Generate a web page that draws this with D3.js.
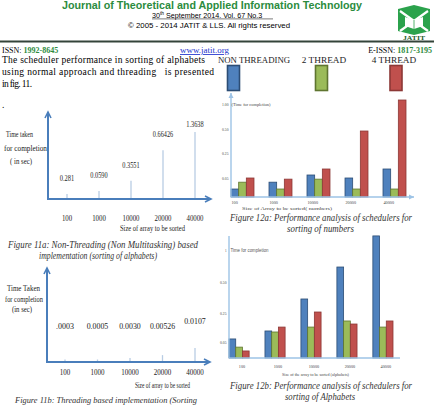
<!DOCTYPE html>
<html>
<head>
<meta charset="utf-8">
<script src="https://cdn.jsdelivr.net/npm/d3@7"></script>
<style>
body { margin: 0; background: #fff; }
svg { display: block; }
</style>
</head>
<body>
<script>
// array sizes, shared by all four figures
const sizes = ["100", "1000", "10000", "20000", "40000"];

// fig 11a : non threading, sorting of alphabets
const labels11a = ["0.281", "0.0590", "0.3551", "0.66426", "1.3638"];
const drawn11a = [0.10, 0.16, 0.37, 0.99, 1.36];   // height of each line as it is drawn

// fig 11b : threading
const labels11b = [".0003", "0.0005", "0.0030", "0.00526", "0.0107"];
const values11b = [0.0003, 0.0005, 0.0030, 0.00526, 0.0107];

// legend / series
const series = ["NON THREADING", "2 THREAD", "4 THREAD"];
const fills = ["#4f81bd", "#9bbb59", "#c0504d"];
const strokes = ["#2c4d75", "#5f7530", "#8c3836"];

// fig 12a : sorting of numbers
const non12a = [0.021, 0.039, 0.074, 0.050, 0.122];
const two12a = [0.039, 0.021, 0.047, 0.021, 0.021];
const four12a = [0.050, 0.047, 0.122, 0.479, 1.08];

// fig 12b : sorting of alphabets
const non12b = [0.071, 0.126, 0.363, 0.734, 1.22];
const two12b = [0.034, 0.119, 0.153, 0.195, 0.153];
const four12b = [0.022, 0.153, 0.258, 0.174, 0.195];

const yTicks = [1, 0.5, 0.25, 0.05];
const yTickLabels12a = ["1.00", "0.50", "0.25", "0.05"];
const yTickLabels12b = ["1", "0.50", "0.25", "0.05"];

const svg = d3.select("body").append("svg")
    .attr("width", 434)
    .attr("height", 405)
    .style("font-family", "'Liberation Serif', 'Times New Roman', serif");

function label(g, x, y, s, size, len, anchor) {
    const t = g.append("text")
        .attr("x", x).attr("y", y)
        .attr("font-size", size)
        .attr("text-anchor", anchor || "start")
        .text(s);
    if (len) t.attr("textLength", len).attr("lengthAdjust", "spacingAndGlyphs");
    return t;
}

// ---------- page header ----------
label(svg, 62, 9, "Journal of Theoretical and Applied Information Technology", 10, 300)
    .attr("font-family", "'Liberation Sans', Arial, sans-serif")
    .attr("font-weight", "bold")
    .attr("fill", "#2b8c3e");

const date = svg.append("text").attr("x", 152).attr("y", 17.5)
    .attr("font-size", 7.2).attr("font-family", "'Liberation Sans', Arial, sans-serif");
date.append("tspan").text("30");
date.append("tspan").attr("dy", -2.5).attr("font-size", 4.8).text("th");
date.append("tspan").attr("dy", 2.5).text(" September 2014. Vol. 67 No.3");
svg.append("line").attr("x1", 152).attr("x2", 273).attr("y1", 18.9).attr("y2", 18.9)
    .attr("stroke", "#222").attr("stroke-width", 0.6);

label(svg, 128, 28, "\u00a9 2005 - 2014 JATIT & LLS. All rights reserved", 7.5, 162)
    .attr("font-family", "'Liberation Sans', Arial, sans-serif");

// logo
const logo = svg.append("g");
logo.append("path")
    .attr("d", "M398,9 L414,5 L430,9 L430,31 L414,35 L398,31 Z")
    .attr("fill", "#2ba24c");
logo.append("path").attr("d", "M400,11 L428,31 M428,11 L400,31")
    .attr("stroke", "#fff").attr("stroke-width", 2.2);
logo.append("path").attr("d", "M405,17 L414,20 L423,17 L423,26 L414,29 L405,26 Z")
    .attr("fill", "#fff");
logo.append("path").attr("d", "M414,20 L414,29").attr("stroke", "#2ba24c").attr("stroke-width", 0.8);
label(logo, 414, 40, "JATIT", 7, 22, "middle").attr("font-weight", "bold").attr("fill", "#1e5c2a");

svg.append("line").attr("x1", 0).attr("x2", 434).attr("y1", 41.5).attr("y2", 41.5)
    .attr("stroke", "#34443a").attr("stroke-width", 1.8);

const issn = svg.append("text").attr("x", 2).attr("y", 53).attr("font-size", 8);
issn.append("tspan").text("ISSN: ");
issn.append("tspan").attr("fill", "#2e8b3e").attr("font-weight", "bold").text("1992-8645");

label(svg, 204.5, 53, "www.jatit.org", 8.5, 49, "middle")
    .attr("fill", "#2233cc").attr("text-decoration", "underline");

const eissn = svg.append("text").attr("x", 432).attr("y", 53).attr("font-size", 8).attr("text-anchor", "end");
eissn.append("tspan").text("E-ISSN: ");
eissn.append("tspan").attr("fill", "#2e8b3e").attr("font-weight", "bold").text("1817-3195");

// ---------- body text ----------
label(svg, 2, 63, "The scheduler performance in sorting of alphabets", 9.5, 203).attr("lengthAdjust", "spacing");
label(svg, 2, 75, "using normal approach and threading   is presented", 9.5, 212)
    .attr("lengthAdjust", "spacing").attr("xml:space", "preserve").style("white-space", "pre");
label(svg, 2, 86.5, "in fig. 11.", 9.5, 30).attr("lengthAdjust", "spacing");
label(svg, 2, 108, ".", 9.5);

// ---------- arrows for fig 11 ----------
function arrowAxes(g, f, color) {
    g.append("line").attr("x1", f.left).attr("x2", f.left).attr("y1", f.base + 1).attr("y2", f.top)
        .attr("stroke", color).attr("stroke-width", 2);
    g.append("line").attr("x1", f.left - 1).attr("x2", f.right).attr("y1", f.base).attr("y2", f.base)
        .attr("stroke", color).attr("stroke-width", 2);
    g.append("polyline")
        .attr("points", [[f.left - 3, f.top + 6], [f.left, f.top], [f.left + 3, f.top + 6]].join(" "))
        .attr("fill", "none").attr("stroke", color).attr("stroke-width", 1.6);
    g.append("polyline")
        .attr("points", [[f.right - 6, f.base - 3], [f.right, f.base], [f.right - 6, f.base + 3]].join(" "))
        .attr("fill", "none").attr("stroke", color).attr("stroke-width", 1.6);
}

// ---------- fig 11a ----------
const f11a = {left: 48, right: 211, top: 112, base: 199};
const g11a = svg.append("g");
const x11a = d3.scalePoint().domain(sizes).range([67, 195]);
const y11a = d3.scaleLinear().domain([0, 1.5]).range([f11a.base, f11a.base - 74]);

g11a.selectAll("line.val").data(sizes).join("line").attr("class", "val")
    .attr("x1", d => x11a(d)).attr("x2", d => x11a(d))
    .attr("y1", y11a(0)).attr("y2", (d, i) => y11a(drawn11a[i]))
    .attr("stroke", "#b8cce4").attr("stroke-width", 1.3);
arrowAxes(g11a, f11a, "#4a7ebb");

g11a.selectAll("text.val").data(labels11a).join("text").attr("class", "val")
    .attr("x", (d, i) => x11a(sizes[i]))
    .attr("y", (d, i) => Math.max(y11a(drawn11a[i]) - 13, f11a.top + 15))
    .attr("text-anchor", "middle").attr("font-size", 8.5).attr("fill", "#222")
    .attr("textLength", d => d.length * 2.9).attr("lengthAdjust", "spacingAndGlyphs")
    .text(d => d);

g11a.selectAll("text.tick").data(sizes).join("text").attr("class", "tick")
    .attr("x", d => x11a(d)).attr("y", f11a.base + 22)
    .attr("text-anchor", "middle").attr("font-size", 8.5).attr("fill", "#222")
    .attr("textLength", d => d.length * 3.4).attr("lengthAdjust", "spacingAndGlyphs")
    .text(d => d);
label(g11a, 152.5, 230.5, "Size of array to be sorted", 8.5, 65, "middle").attr("fill", "#222");
label(g11a, 6, 137, "Time taken", 8.5, 27).attr("fill", "#222");
label(g11a, 4, 151, "for completion", 8.5, 43).attr("fill", "#222");
label(g11a, 10, 164, "( in sec)", 8.5, 22).attr("fill", "#222");

label(svg, 103, 248, "Figure 11a: Non-Threading (Non Multitasking) based", 9.5, 190, "middle")
    .attr("font-style", "italic").attr("fill", "#333");
label(svg, 98, 259, "implementation (sorting of alphabets)", 9.5, 118, "middle")
    .attr("font-style", "italic").attr("fill", "#333");

// ---------- fig 11b ----------
const f11b = {left: 47, right: 210, top: 268, base: 362};
const g11b = svg.append("g");
const x11b = d3.scalePoint().domain(sizes).range([65, 195]);
const y11b = d3.scaleLinear().domain([0, 0.0107]).range([f11b.base, f11b.base - 14]);

g11b.selectAll("line.val").data(values11b).join("line").attr("class", "val")
    .attr("x1", (d, i) => x11b(sizes[i])).attr("x2", (d, i) => x11b(sizes[i]))
    .attr("y1", y11b(0)).attr("y2", d => Math.min(y11b(d), f11b.base - 2.5))
    .attr("stroke", "#b8cce4").attr("stroke-width", 1.3);
arrowAxes(g11b, f11b, "#4a7ebb");

g11b.selectAll("text.val").data(labels11b).join("text").attr("class", "val")
    .attr("x", (d, i) => x11b(sizes[i]))
    .attr("y", (d, i) => Math.min(f11b.base - 33, y11b(values11b[i]) - 24))
    .attr("text-anchor", "middle").attr("font-size", 9).attr("fill", "#222")
    .attr("textLength", d => d.length * 3.6).attr("lengthAdjust", "spacingAndGlyphs")
    .text(d => d);

g11b.selectAll("text.tick").data(sizes).join("text").attr("class", "tick")
    .attr("x", d => x11b(d)).attr("y", f11b.base + 13)
    .attr("text-anchor", "middle").attr("font-size", 9).attr("fill", "#222")
    .attr("textLength", d => d.length * 3.5).attr("lengthAdjust", "spacingAndGlyphs")
    .text(d => d);
label(g11b, 162.5, 388, "Size of array to be sorted", 9, 55, "middle").attr("fill", "#222");
label(g11b, 7, 291, "Time Taken", 9, 33).attr("fill", "#222");
label(g11b, 5, 302, "for completion", 9, 38).attr("fill", "#222");
label(g11b, 12, 312, "(in sec)", 9, 20).attr("fill", "#222");

label(svg, 106, 402.5, "Figure 11b: Threading based implementation (Sorting", 8.5, 182, "middle")
    .attr("font-style", "italic").attr("fill", "#333");

// ---------- legend ----------
const legX = d3.scalePoint().domain(series).range([254, 394]);
const swX = d3.scaleOrdinal().domain(series).range([233.5, 321.5, 396]);
const leg = svg.append("g");
leg.selectAll("text").data(series).join("text")
    .attr("x", d => legX(d)).attr("y", 62.5)
    .attr("text-anchor", "middle").attr("font-size", 9).attr("fill", "#222")
    .attr("textLength", d => d.length * 5.55).attr("lengthAdjust", "spacingAndGlyphs")
    .text(d => d);
leg.selectAll("rect").data(series).join("rect")
    .attr("x", d => swX(d) - 6).attr("y", 65.5).attr("width", 12).attr("height", 25)
    .attr("fill", (d, i) => fills[i]).attr("stroke", (d, i) => strokes[i]).attr("stroke-width", 1.6);

// ---------- fig 12 bar charts ----------
function barChart(o) {
    const g = svg.append("g");
    const x0 = d3.scaleBand().domain(sizes).range(o.xRange).paddingInner(o.pad);
    const x1 = d3.scaleBand().domain(series).range([0, x0.bandwidth()]);
    const y = d3.scaleLinear().domain([0, 0.05, 0.25, 0.5, 1]).range(o.yRange);

    const groups = g.selectAll("g.grp").data(sizes).join("g").attr("class", "grp")
        .attr("transform", d => `translate(${x0(d)},0)`);
    groups.selectAll("rect")
        .data((d, i) => o.data.map((arr, k) => ({k: k, v: arr[i]})))
        .join("rect")
        .attr("x", d => x1(series[d.k]))
        .attr("width", x1.bandwidth())
        .attr("y", d => y(d.v))
        .attr("height", d => y(0) - y(d.v))
        .attr("fill", d => fills[d.k])
        .attr("stroke", d => strokes[d.k])
        .attr("stroke-width", 0.8);

    // axes
    g.append("line").attr("x1", o.xRange[0]).attr("x2", o.xRange[0])
        .attr("y1", y(0)).attr("y2", o.top)
        .attr("stroke", "#9dc3e6").attr("stroke-width", 1.4);
    g.append("line").attr("x1", o.xRange[0]).attr("x2", o.xEnd)
        .attr("y1", y(0)).attr("y2", y(0))
        .attr("stroke", "#9dc3e6").attr("stroke-width", 1.4);
    if (o.arrows) {
        g.append("path").attr("d", `M${o.xRange[0] - 2.5},${o.top + 5} L${o.xRange[0]},${o.top} L${o.xRange[0] + 2.5},${o.top + 5} Z`)
            .attr("fill", "#9dc3e6");
        g.append("path").attr("d", `M${o.xEnd - 5},${y(0) - 2.5} L${o.xEnd},${y(0)} L${o.xEnd - 5},${y(0) + 2.5} Z`)
            .attr("fill", "#9dc3e6");
    }

    g.selectAll("text.ytick").data(yTicks).join("text").attr("class", "ytick")
        .attr("x", o.xRange[0] - 2.5).attr("y", d => y(d) + 1.7)
        .attr("text-anchor", "end").attr("font-size", 5).attr("fill", "#444")
        .attr("textLength", (d, i) => o.yLabels[i].length * 1.6).attr("lengthAdjust", "spacingAndGlyphs")
        .text((d, i) => o.yLabels[i]);

    g.selectAll("text.xtick").data(sizes).join("text").attr("class", "xtick")
        .attr("x", d => x0(d) + o.xLabelShift).attr("y", y(0) + o.xLabelGap)
        .attr("text-anchor", o.xLabelAnchor).attr("font-size", 5).attr("fill", "#444")
        .attr("textLength", d => d.length * 2.1).attr("lengthAdjust", "spacingAndGlyphs")
        .text(d => d);
    return {g, x0, y};
}

const c12a = barChart({
    xRange: [231, 406], pad: 0.395, xEnd: 414, top: 93,
    yRange: [197, 178, 153, 129, 104], arrows: true,
    data: [non12a, two12a, four12a], yLabels: yTickLabels12a,
    xLabelShift: 0.5, xLabelAnchor: "start", xLabelGap: 6.5
});
label(c12a.g, 231.5, 105.7, "(Time for completion)", 5, 39).attr("fill", "#444");
label(c12a.g, 287, 209.5, "Size of Array to be sorted( numbers)", 5, 90, "middle").attr("fill", "#444");
label(svg, 321, 221, "Figure 12a: Performance analysis of schedulers for", 9.5, 182, "middle")
    .attr("font-style", "italic").attr("fill", "#333");
label(svg, 320.5, 231.5, "sorting of numbers", 9.5, 67, "middle")
    .attr("font-style", "italic").attr("fill", "#333");

const c12b = barChart({
    xRange: [229, 393], pad: 0.44, xEnd: 400, top: 236,
    yRange: [358, 342, 313, 282, 250], arrows: false,
    data: [non12b, two12b, four12b], yLabels: yTickLabels12b,
    xLabelShift: 13, xLabelAnchor: "middle", xLabelGap: 10
});
label(c12b.g, 230.5, 251.5, "Time for completion", 5, 38)
    .attr("font-family", "'Liberation Sans', Arial, sans-serif").attr("fill", "#555");
label(c12b.g, 315.5, 376, "Size of the array to be sorted (alphabets)", 4.5, 67, "middle").attr("fill", "#444");
label(svg, 321, 389, "Figure 12b: Performance analysis of schedulers for", 9.5, 182, "middle")
    .attr("font-style", "italic").attr("fill", "#333");
label(svg, 320, 400, "sorting of Alphabets", 9.5, 70, "middle")
    .attr("font-style", "italic").attr("fill", "#333");
</script>
</body>
</html>
